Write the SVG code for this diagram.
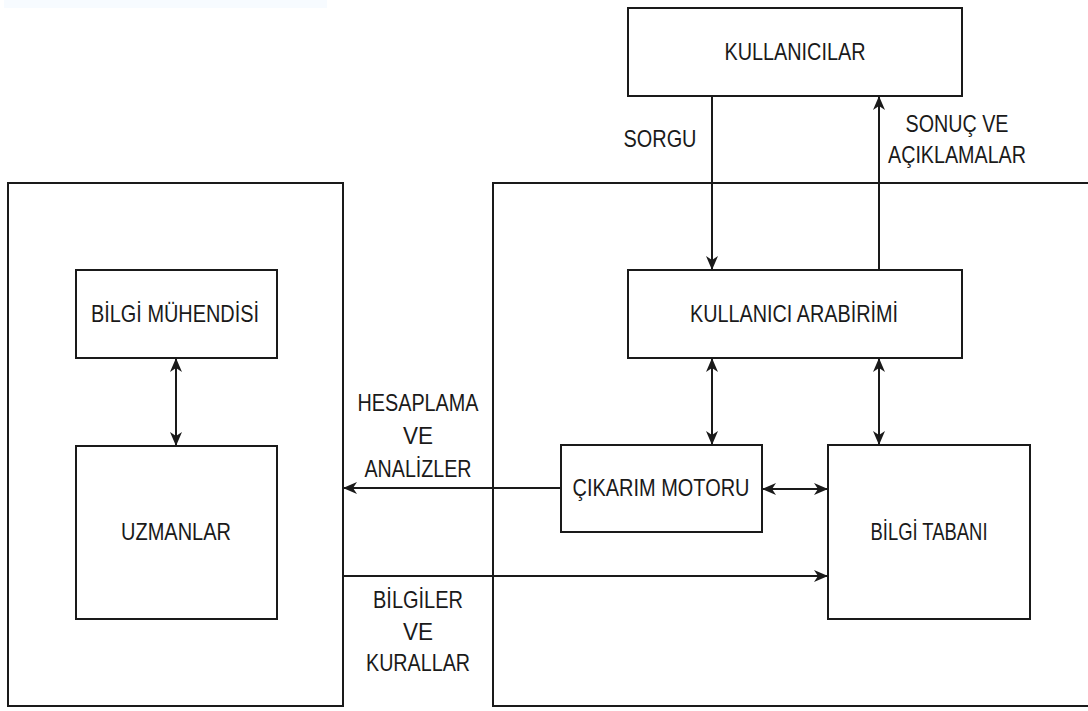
<svg xmlns="http://www.w3.org/2000/svg" width="1088" height="711" viewBox="0 0 1088 711">
<style>
.box{fill:none;stroke:#1a1a1a;stroke-width:2}
.node{fill:#fff;stroke:#1a1a1a;stroke-width:2}
.edge{fill:none;stroke:#1a1a1a;stroke-width:2}
text{font-family:"Liberation Sans",Arial,sans-serif;font-size:24px;fill:#1a1a1a;text-anchor:middle}
</style>
<defs>
<marker id="arr" viewBox="0 0 14 12" refX="14" refY="6" markerWidth="14" markerHeight="12" markerUnits="userSpaceOnUse" orient="auto-start-reverse">
<path d="M0,0 L14,6 L0,12 L4,6 Z" fill="#1a1a1a"/>
</marker>
</defs>
<rect width="1088" height="711" fill="#fff"/>
<rect x="4" y="0" width="323" height="8" fill="#f7fbff"/>

<g id="dis-cevre">
<rect class="box" x="8" y="183" width="335" height="523"/>
</g>
<g id="sistem">
<rect class="box" x="493" y="183" width="620" height="523"/>
</g>

<g id="kullanicilar">
<rect class="node" x="628" y="8" width="334" height="88"/>
<text x="795" y="60" textLength="141" lengthAdjust="spacingAndGlyphs">KULLANICILAR</text>
</g>
<g id="kullanici-arabirimi">
<rect class="node" x="628" y="270" width="334" height="88"/>
<text x="794" y="322" textLength="208" lengthAdjust="spacingAndGlyphs">KULLANICI ARABİRİMİ</text>
</g>
<g id="cikarim-motoru">
<rect class="node" x="561" y="445" width="201" height="87"/>
<text x="661" y="496" textLength="177" lengthAdjust="spacingAndGlyphs">ÇIKARIM MOTORU</text>
</g>
<g id="bilgi-tabani">
<rect class="node" x="828" y="445" width="202" height="174"/>
<text x="929" y="540" textLength="117" lengthAdjust="spacingAndGlyphs">BİLGİ TABANI</text>
</g>
<g id="bilgi-muhendisi">
<rect class="node" x="76" y="270" width="201" height="88"/>
<text x="175" y="322" textLength="168" lengthAdjust="spacingAndGlyphs">BİLGİ MÜHENDİSİ</text>
</g>
<g id="uzmanlar">
<rect class="node" x="76" y="446" width="201" height="173"/>
<text x="176" y="540" textLength="110" lengthAdjust="spacingAndGlyphs">UZMANLAR</text>
</g>

<g id="connectors">
<line class="edge" x1="712" y1="96" x2="712" y2="270" marker-end="url(#arr)"/>
<line class="edge" x1="879" y1="270" x2="879" y2="96" marker-end="url(#arr)"/>
<line class="edge" x1="712" y1="358" x2="712" y2="445" marker-start="url(#arr)" marker-end="url(#arr)"/>
<line class="edge" x1="879" y1="358" x2="879" y2="445" marker-start="url(#arr)" marker-end="url(#arr)"/>
<line class="edge" x1="762" y1="489" x2="828" y2="489" marker-start="url(#arr)" marker-end="url(#arr)"/>
<line class="edge" x1="561" y1="488" x2="343" y2="488" marker-end="url(#arr)"/>
<line class="edge" x1="343" y1="576" x2="828" y2="576" marker-end="url(#arr)"/>
<line class="edge" x1="176" y1="358" x2="176" y2="446" marker-start="url(#arr)" marker-end="url(#arr)"/>
</g>

<g id="labels">
<text x="660" y="147" textLength="73" lengthAdjust="spacingAndGlyphs">SORGU</text>
<text x="957" y="132" textLength="103" lengthAdjust="spacingAndGlyphs">SONUÇ VE</text>
<text x="957" y="163" textLength="138" lengthAdjust="spacingAndGlyphs">AÇIKLAMALAR</text>
<text x="418" y="411" textLength="121" lengthAdjust="spacingAndGlyphs">HESAPLAMA</text>
<text x="418" y="444" textLength="30" lengthAdjust="spacingAndGlyphs">VE</text>
<text x="418" y="477" textLength="107" lengthAdjust="spacingAndGlyphs">ANALİZLER</text>
<text x="418" y="608" textLength="90" lengthAdjust="spacingAndGlyphs">BİLGİLER</text>
<text x="418" y="640" textLength="30" lengthAdjust="spacingAndGlyphs">VE</text>
<text x="418" y="671" textLength="104" lengthAdjust="spacingAndGlyphs">KURALLAR</text>
</g>
</svg>
